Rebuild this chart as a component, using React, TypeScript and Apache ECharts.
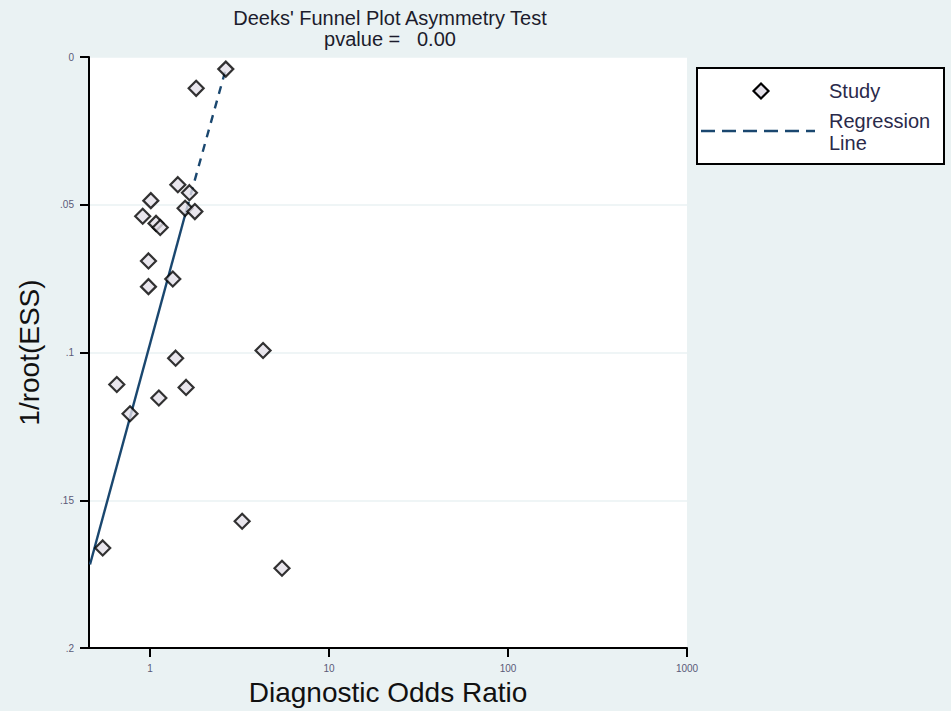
import React, { useEffect, useRef } from 'react';
import * as echarts from 'echarts';

// ---- Text ----
const titleLines = ["Deeks' Funnel Plot Asymmetry Test", 'pvalue =   0.00'];
const xAxisTitle = 'Diagnostic Odds Ratio';
const yAxisTitle = '1/root(ESS)';
const legendStudy = 'Study';
const legendRegression = ['Regression', 'Line'];

// ---- Data ----
const studyDOR = [
  2.65, 1.81, 1.43, 1.66, 1.01, 1.57, 1.78, 0.91, 1.08, 1.14, 0.98,
  1.34, 0.98, 4.28, 1.39, 0.652, 1.59, 1.12, 0.773, 3.27, 0.544, 5.46,
];
const studyInvRootESS = [
  0.0041, 0.0106, 0.0432, 0.0459, 0.0486, 0.0512, 0.0523, 0.0539, 0.0563, 0.0577, 0.069,
  0.0751, 0.0777, 0.0993, 0.1019, 0.1108, 0.1118, 0.1154, 0.1207, 0.1571, 0.1661, 0.173,
];

// regression line, lower (dense) part and upper (dashed) part
const regLowerDOR = [0.462, 1.6];
const regLowerY = [0.1717, 0.0516];
const regUpperDOR = [1.6, 2.65];
const regUpperY = [0.0516, 0.0041];

// ---- Axes ----
const xTicks = [1, 10, 100, 1000];
const yTickValues = [0, 0.05, 0.1, 0.15, 0.2];
const yTickLabels = ['0', '.05', '.1', '.15', '.2'];

const FONT = '"Liberation Sans", Arial, sans-serif';
const BG = '#EAF2F3';
const NAVY = '#1a476f';

export default function App() {
  const ref = useRef<HTMLDivElement>(null);

  useEffect(() => {
    if (!ref.current) return;
    const chart = echarts.init(ref.current, undefined, { renderer: 'svg' });

    const zip = (xs: number[], ys: number[]) => xs.map((x, i) => [x, ys[i]]);

    const option: any = {
      animation: false,
      backgroundColor: BG,
      textStyle: { fontFamily: FONT },
      grid: {
        left: 89,
        right: 264,
        top: 57,
        bottom: 56,
        show: true,
        backgroundColor: '#ffffff',
        borderWidth: 0,
      },
      xAxis: {
        type: 'log',
        logBase: 10,
        min: 0.456,
        max: 1000,
        name: xAxisTitle,
        nameLocation: 'middle',
        nameGap: 26,
        nameTextStyle: { fontSize: 28, color: '#111111', fontFamily: FONT },
        axisLine: { show: true, onZero: false, lineStyle: { color: '#000', width: 2 } },
        axisTick: {
          show: true,
          length: 9,
          customValues: xTicks,
          lineStyle: { color: '#000', width: 2 },
        },
        axisLabel: {
          customValues: xTicks,
          fontSize: 10,
          margin: 15,
          color: '#5a5a78',
          fontFamily: FONT,
          formatter: (v: number) => String(Math.round(v)),
        },
        splitLine: { show: false },
      },
      yAxis: {
        type: 'value',
        inverse: true,
        min: 0,
        max: 0.2,
        interval: 0.05,
        name: yAxisTitle,
        nameLocation: 'middle',
        nameGap: 46,
        nameTextStyle: { fontSize: 28, color: '#111111', fontFamily: FONT },
        axisLine: { show: true, lineStyle: { color: '#000', width: 2 } },
        axisTick: { show: true, length: 9, lineStyle: { color: '#000', width: 2 } },
        axisLabel: {
          fontSize: 10,
          margin: 15,
          color: '#5a5a78',
          fontFamily: FONT,
          formatter: (v: number) => {
            let best = 0;
            yTickValues.forEach((t, i) => {
              if (Math.abs(t - v) < Math.abs(yTickValues[best] - v)) best = i;
            });
            return yTickLabels[best];
          },
        },
        splitLine: { show: true, lineStyle: { color: BG, width: 1.5 } },
      },
      series: [
        {
          type: 'line',
          name: 'Regression Line',
          data: zip(regLowerDOR, regLowerY),
          symbol: 'none',
          lineStyle: { color: NAVY, width: 2.4, type: 'solid' },
          z: 2,
        },
        {
          type: 'line',
          name: 'Regression Line upper',
          data: zip(regUpperDOR, regUpperY),
          symbol: 'none',
          lineStyle: { color: NAVY, width: 2.4, type: [8, 7] },
          z: 2,
        },
        {
          type: 'scatter',
          name: 'Study',
          data: zip(studyDOR, studyInvRootESS),
          symbol: 'diamond',
          symbolSize: 15,
          itemStyle: { color: '#e3e0e8', borderColor: '#000', borderWidth: 2.2 },
          z: 3,
        },
      ],
      graphic: [
        {
          type: 'text',
          style: {
            text: titleLines[0],
            x: 390,
            y: 18,
            align: 'center',
            verticalAlign: 'middle',
            fontSize: 20,
            fontFamily: FONT,
            fill: '#1c1c2c',
          },
        },
        {
          type: 'text',
          style: {
            text: titleLines[1],
            x: 390,
            y: 39,
            align: 'center',
            verticalAlign: 'middle',
            fontSize: 20,
            fontFamily: FONT,
            fill: '#1c1c2c',
          },
        },
        {
          type: 'rect',
          shape: { x: 697, y: 68, width: 247, height: 96 },
          style: { fill: '#ffffff', stroke: '#000', lineWidth: 2 },
        },
        {
          type: 'polygon',
          shape: {
            points: [
              [761, 83.5],
              [768.5, 91],
              [761, 98.5],
              [753.5, 91],
            ],
          },
          style: { fill: '#e3e0e8', stroke: '#000', lineWidth: 2.2 },
        },
        {
          type: 'text',
          style: {
            text: legendStudy,
            x: 829,
            y: 91,
            verticalAlign: 'middle',
            fontSize: 20,
            fontFamily: FONT,
            fill: '#2a2a4a',
          },
        },
        {
          type: 'line',
          shape: { x1: 701, y1: 131, x2: 815, y2: 131 },
          style: { stroke: NAVY, lineWidth: 2.4, lineDash: [14, 7] },
        },
        {
          type: 'text',
          style: {
            text: legendRegression[0],
            x: 829,
            y: 121,
            verticalAlign: 'middle',
            fontSize: 20,
            fontFamily: FONT,
            fill: '#2a2a4a',
          },
        },
        {
          type: 'text',
          style: {
            text: legendRegression[1],
            x: 829,
            y: 143,
            verticalAlign: 'middle',
            fontSize: 20,
            fontFamily: FONT,
            fill: '#2a2a4a',
          },
        },
      ],
    };

    chart.setOption(option);
    return () => chart.dispose();
  }, []);

  return (
    <div
      ref={ref}
      style={{ position: 'fixed', left: 0, top: 0, width: 951, height: 711 }}
    />
  );
}
